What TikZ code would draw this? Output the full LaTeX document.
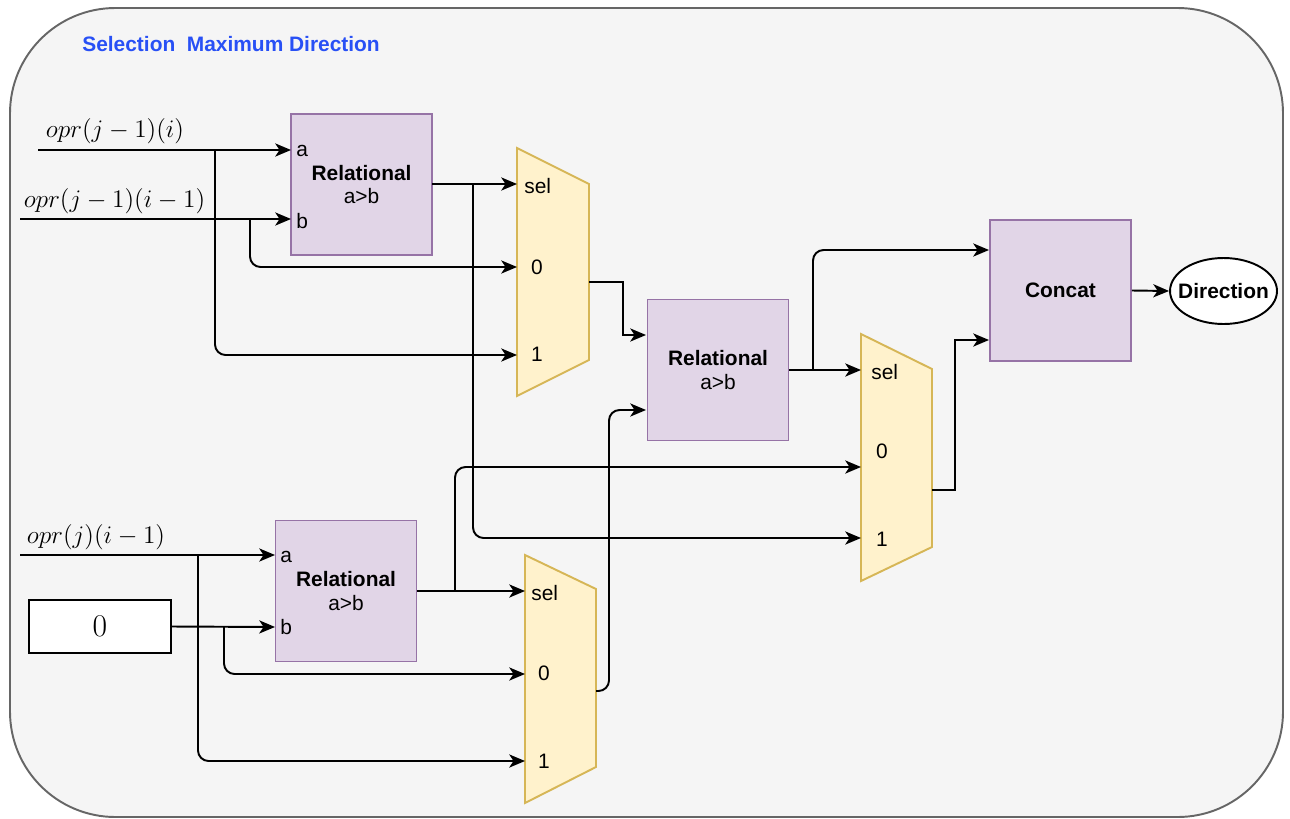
\documentclass[tikz,border=0pt]{standalone}
\usepackage{fontspec}
\setsansfont{Liberation Sans}
\usetikzlibrary{arrows.meta,shapes.geometric}
\definecolor{bgfill}{HTML}{F5F5F5}
\definecolor{bgdraw}{HTML}{666666}
\definecolor{relfill}{HTML}{E1D5E7}
\definecolor{reldraw}{HTML}{9673A6}
\definecolor{muxfill}{HTML}{FFF2CC}
\definecolor{muxdraw}{HTML}{D6B656}
\definecolor{titleblue}{RGB}{40,80,245}
\tikzset{
  wire/.style={draw=black, line width=1.1pt, -{Stealth[length=9pt,width=7.5pt,inset=2.5pt]}},
  wirer/.style={wire, rounded corners=6pt},
  relbox/.style={rectangle, draw=reldraw, fill=relfill, line width=1.1pt,
    minimum width=2.82cm, minimum height=2.82cm, align=center, inner sep=0pt,
    font=\sffamily\fontsize{11.9}{13.6}\selectfont},
  muxshape/.style={draw=muxdraw, fill=muxfill, line width=1.1pt},
  lbl/.style={inner sep=0pt, font=\sffamily\fontsize{11.9}{14}\selectfont},
  mathlbl/.style={inner sep=0pt, font=\fontsize{14.5}{17}\selectfont},
}
\begin{document}
\begin{tikzpicture}[x=0.02cm,y=-0.02cm]
\useasboundingbox (0,0) rectangle (1290,818);
% background
\draw[bgdraw, fill=bgfill, line width=1.1pt, rounded corners=60pt] (10,8) rectangle (1283,817);
\node[anchor=west, inner sep=0pt, text=titleblue, font=\sffamily\bfseries\fontsize{11.9}{14}\selectfont] (title) at (82,44) {Selection\ \ Maximum Direction};

% relational blocks
\node[relbox] (r1) at (361.5,184.5) {\textbf{Relational}\\a>b};
\node[relbox] (r2) at (718,370) {\textbf{Relational}\\a>b};
\node[relbox] (r3) at (346,591) {\textbf{Relational}\\a>b};
\node[relbox, font=\sffamily\bfseries\fontsize{11.9}{14}\selectfont] (cc) at (1060.5,290.5) {Concat};
\node[ellipse, draw=black, fill=white, line width=1.1pt, minimum width=2.14cm, minimum height=1.32cm,
  inner xsep=-4.5pt, inner ysep=0pt,
  font=\sffamily\bfseries\fontsize{11.9}{14}\selectfont] (dir) at (1223.5,291) {Direction};

% port labels
\node[lbl, anchor=west] (r1al) at (296,151) {a};
\node[lbl, anchor=west] (r1bl) at (296,221) {b};
\node[lbl, anchor=west] (r3al) at (280,557) {a};
\node[lbl, anchor=west] (r3bl) at (280,627) {b};

% muxes
\draw[muxshape] (517,148) -- (589,184) -- (589,360) -- (517,396) -- cycle;
\draw[muxshape] (525,555) -- (596,589) -- (596,767) -- (525,803) -- cycle;
\draw[muxshape] (861,334) -- (932,369) -- (932,547) -- (861,581) -- cycle;
\node[lbl, anchor=west] (m1s) at (524,186) {sel};
\node[lbl] (m10) at (537,267) {0};
\node[lbl] (m11) at (537,354) {1};
\node[lbl, anchor=west] (m2s) at (531,593) {sel};
\node[lbl] (m20) at (544,673) {0};
\node[lbl] (m21) at (544,761) {1};
\node[lbl, anchor=west] (m3s) at (871,372) {sel};
\node[lbl] (m30) at (882,451) {0};
\node[lbl] (m31) at (882,539) {1};

% input labels
\node[mathlbl] (l1) at (115,131) {$opr(j-1)(i)$};
\node[mathlbl] (l2) at (114.5,201) {$opr(j-1)(i-1)$};
\node[mathlbl] (l3) at (96,537) {$opr(j)(i-1)$};
\node[rectangle, draw=black, fill=white, line width=1.1pt, minimum width=2.84cm, minimum height=1.06cm, inner sep=0pt,
  font=\fontsize{18}{20}\selectfont] (zero) at (100,626.5) {0};

% coordinates
\coordinate (in1) at (38,150);
\coordinate (in2) at (20,219);
\coordinate (in3) at (20,555);
\coordinate (r1a) at (291,150);
\coordinate (r1b) at (291,219);
\coordinate (r1o) at (432,184);
\coordinate (r2a) at (646,335);
\coordinate (r2b) at (646,410);
\coordinate (r2o) at (789,370);
\coordinate (r3a) at (275,555);
\coordinate (r3b) at (275,627);
\coordinate (r3o) at (417,591);
\coordinate (m1sel) at (517,184);
\coordinate (m1in0) at (517,267);
\coordinate (m1in1) at (517,355);
\coordinate (m1o) at (589,282);
\coordinate (m2sel) at (525,591);
\coordinate (m2in0) at (525,674);
\coordinate (m2in1) at (525,761);
\coordinate (m2o) at (596,691);
\coordinate (m3sel) at (861,370);
\coordinate (m3in0) at (861,467);
\coordinate (m3in1) at (861,538);
\coordinate (m3o) at (932,490);
\coordinate (c1) at (989,250);
\coordinate (c2) at (989,340);
\coordinate (j1) at (215,150);
\coordinate (j2) at (250,219);
\coordinate (j3) at (473,184);
\coordinate (j4) at (813,370);
\coordinate (j5) at (198,555);
\coordinate (j6) at (224,627);
\coordinate (j7) at (455,591);

% wires
\draw[wire] (in1) -- (r1a);
\draw[wire] (in2) -- (r1b);
\draw[wirer] (j1) |- (m1in1);
\draw[wirer] (j2) |- (m1in0);
\draw[wire] (r1o) -- (m1sel);
\draw[wirer] (j3) |- (m3in1);
\draw[wire] (m1o) -- (623,282) |- (r2a);
\draw[wirer] (m2o) -- (609,691) |- (r2b);
\draw[wire] (r2o) -- (m3sel);
\draw[wirer] (j4) |- (c1);
\draw[wire] (m3o) -- (955,490) |- (c2);
\draw[wire] (cc.east) -- (dir.west);
\draw[wire] (in3) -- (r3a);
\draw[wire] (zero.east) -- (r3b);
\draw[wirer] (j5) |- (m2in1);
\draw[wirer] (j6) |- (m2in0);
\draw[wire] (r3o) -- (m2sel);
\draw[wirer] (j7) |- (m3in0);
\end{tikzpicture}
\end{document}
